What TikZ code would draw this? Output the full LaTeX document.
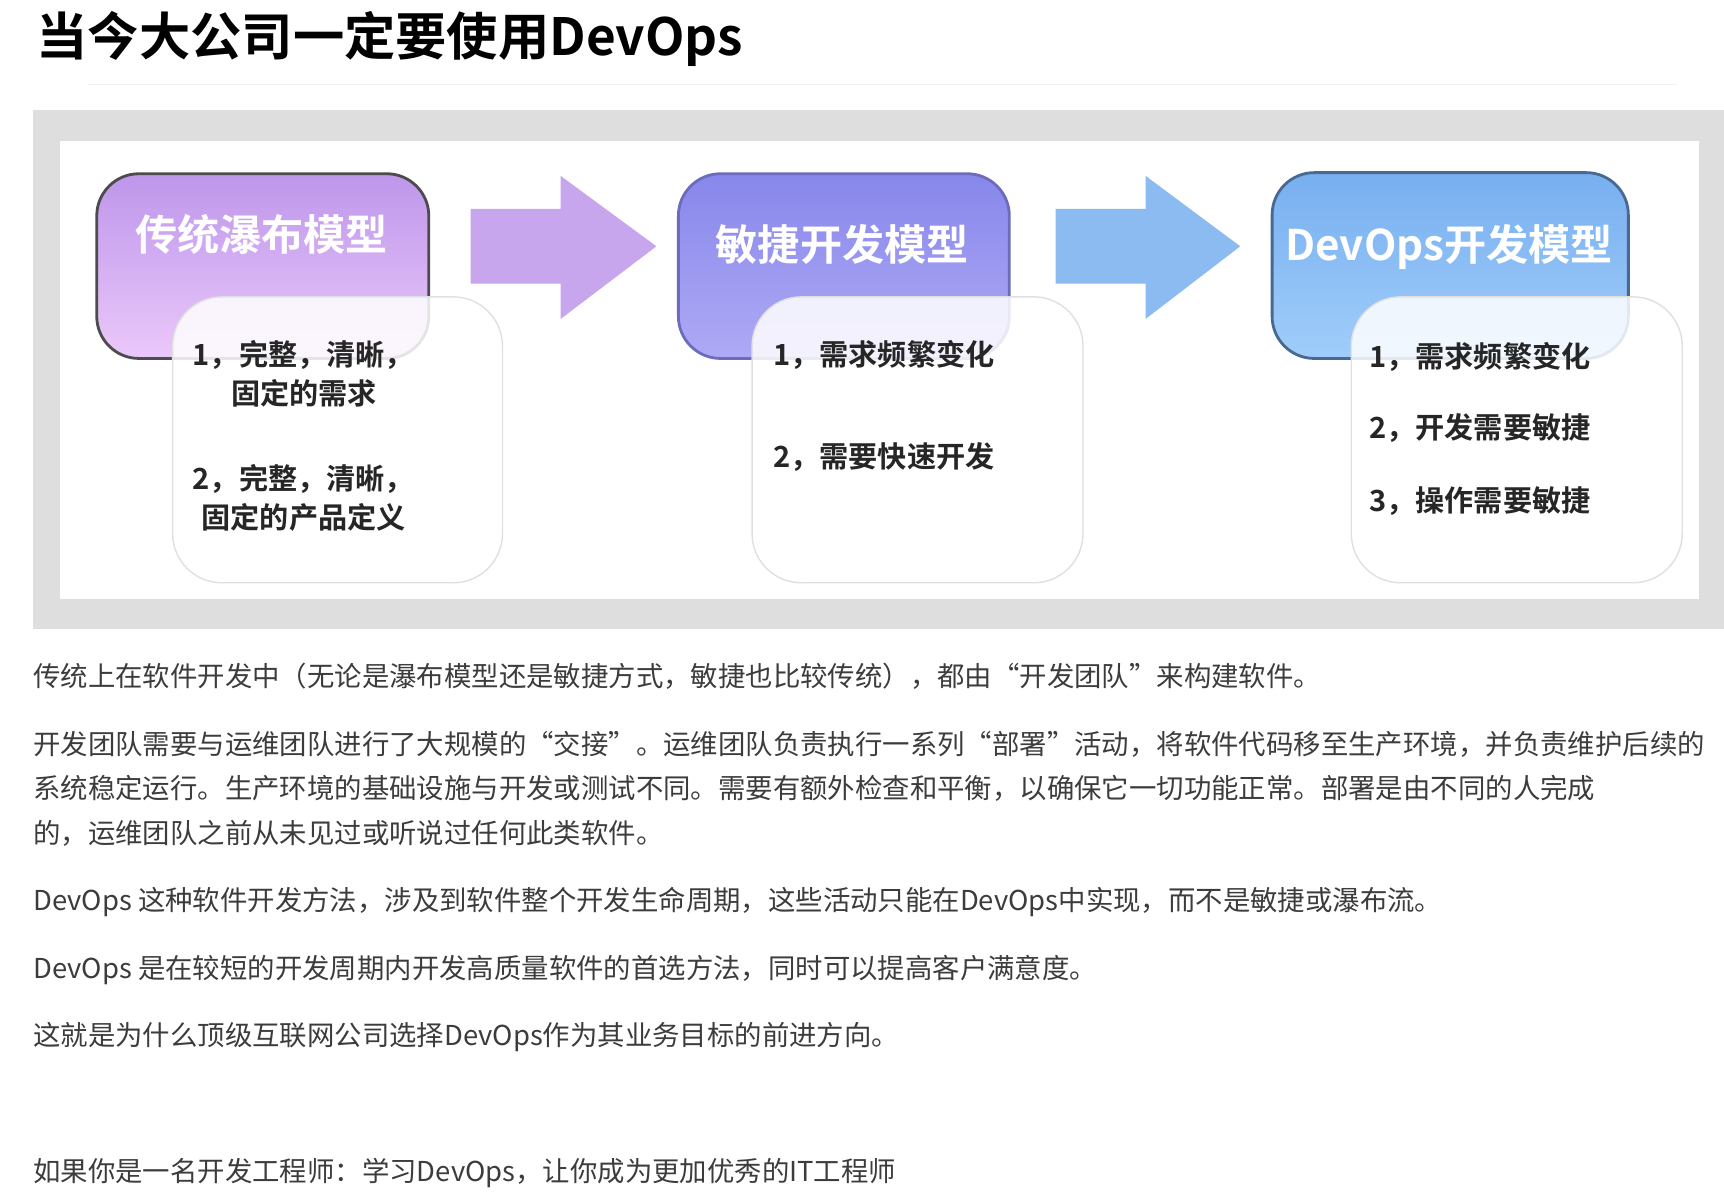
\documentclass[tikz,border=0pt]{standalone}
\usepackage{fontspec}
\setmainfont{Noto Sans CJK SC}
\newfontfamily\boldcjk{Noto Sans CJK SC Bold}
\usetikzlibrary{positioning}
\definecolor{violetA}{RGB}{190,150,235}
\definecolor{violetB}{RGB}{235,200,250}
\definecolor{blueA}{RGB}{135,135,235}
\definecolor{blueB}{RGB}{175,170,245}
\definecolor{skyA}{RGB}{120,175,240}
\definecolor{skyB}{RGB}{160,205,250}
\definecolor{paneltxt}{RGB}{60,60,60}
\begin{document}
\begin{tikzpicture}
      [
        x=0.11mm, y=-0.11mm,
        model/.style={draw=black!70, line width=0.8pt, rounded corners=12pt},
        card/.style={draw=black!12, fill=white, fill opacity=0.85, rounded corners=14pt},
        headline/.style={text=white, font=\boldcjk\fontsize{12}{12}\selectfont, anchor=center},
        item/.style={anchor=west, text=black!85, font=\boldcjk\fontsize{8.3}{9}\selectfont},
        para/.style={anchor=west, text=paneltxt, font=\fontsize{7.8}{8}\selectfont}
      ]
      \useasboundingbox (0,0) rectangle (1568,1090);
      % title
      \node [anchor=west, font=\boldcjk\fontsize{14.6}{15}\selectfont] (title) at (22,35) {当今大公司一定要使用DevOps};
      \draw [black!6] (80,77) -- (1525,77);
      % panel
      \fill [black!13] (30,100) rectangle (1568,572);
      \fill [white] (55,128) rectangle (1545,545);
      % model boxes
      \draw [model, top color=violetA, bottom color=violetB] (88,158) rectangle (390,326);
      \draw [model, draw=blueA!80!black, top color=blueA, bottom color=blueB] (617,158) rectangle (918,326);
      \draw [model, draw=skyA!60!black, top color=skyA, bottom color=skyB] (1157,157) rectangle (1481,326);
      \node [headline] (m1) at (238,213) {传统瀑布模型};
      \node [headline] (m2) at (766,222) {敏捷开发模型};
      \node [headline] (m3) at (1318,225) {DevOps开发模型};
      % block arrows
      \fill [violetA!85] (428,190) -- (510,190) -- (510,160) -- (597,224) -- (510,290) -- (510,258) -- (428,258) -- cycle;
      \fill [skyA!85] (960,190) -- (1042,190) -- (1042,160) -- (1128,224) -- (1042,290) -- (1042,258) -- (960,258) -- cycle;
      % cards
      \draw [card] (157,270) rectangle (457,530);
      \draw [card] (684,270) rectangle (985,530);
      \draw [card] (1229,270) rectangle (1530,530);
      \node [item] (a1) at (164,323) {1，完整，清晰，};
      \node [item] (a2) at (199,358) {固定的需求};
      \node [item] (a3) at (164,436) {2，完整，清晰，};
      \node [item] (a4) at (172,471) {固定的产品定义};
      \node [item] (b1) at (692,323) {1，需求频繁变化};
      \node [item] (b2) at (692,416) {2，需要快速开发};
      \node [item] (c1) at (1234,325) {1，需求频繁变化};
      \node [item] (c2) at (1234,389) {2，开发需要敏捷};
      \node [item] (c3) at (1234,456) {3，操作需要敏捷};
      % paragraphs
      \node [para] (p1) at (19,615) {传统上在软件开发中（无论是瀑布模型还是敏捷方式，敏捷也比较传统），都由“开发团队”来构建软件。};
      \node [para] (p2) at (19,677) {开发团队需要与运维团队进行了大规模的“交接”。运维团队负责执行一系列“部署”活动，将软件代码移至生产环境，并负责维护后续的};
      \node [para] (p3) at (19,717) {系统稳定运行。生产环境的基础设施与开发或测试不同。需要有额外检查和平衡，以确保它一切功能正常。部署是由不同的人完成};
      \node [para] (p4) at (19,758) {的，运维团队之前从未见过或听说过任何此类软件。};
      \node [para] (p5) at (19,820) {DevOps 这种软件开发方法，涉及到软件整个开发生命周期，这些活动只能在DevOps中实现，而不是敏捷或瀑布流。};
      \node [para] (p6) at (19,882) {DevOps 是在较短的开发周期内开发高质量软件的首选方法，同时可以提高客户满意度。};
      \node [para] (p7) at (19,943) {这就是为什么顶级互联网公司选择DevOps作为其业务目标的前进方向。};
      \node [para] (p8) at (19,1067) {如果你是一名开发工程师：学习DevOps，让你成为更加优秀的IT工程师};
\end{tikzpicture}
\end{document}
